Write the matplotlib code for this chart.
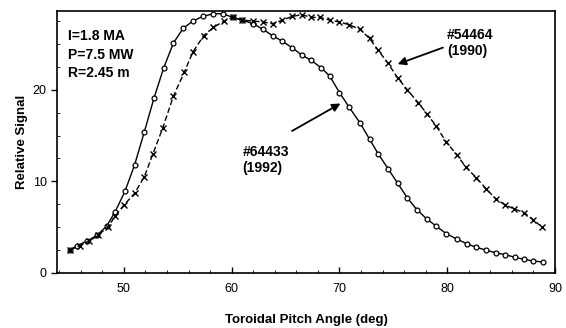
import numpy as np
import matplotlib.pyplot as plt
from matplotlib.ticker import MultipleLocator

plt.rcParams["font.family"] = ["Liberation Sans", "DejaVu Sans"]

# shot #64433 (1992), open circles
angle_64433 = [45.0, 45.7, 46.6, 47.5, 48.4, 49.2, 50.1, 51.0, 51.9, 52.8,
               53.7, 54.6, 55.5, 56.4, 57.3, 58.3, 59.2, 60.1, 61.0, 62.0,
               62.9, 63.8, 64.7, 65.6, 66.5, 67.4, 68.3, 69.1, 70.0, 70.9,
               71.9, 72.8, 73.6, 74.5, 75.4, 76.3, 77.2, 78.1, 79.0, 79.9,
               80.9, 81.8, 82.7, 83.6, 84.5, 85.4, 86.3, 87.1, 88.0, 88.9]
signal_64433 = [2.5, 3.0, 3.5, 4.1, 5.1, 6.7, 8.9, 11.8, 15.4, 19.1,
                22.4, 25.1, 26.7, 27.5, 28.0, 28.3, 28.3, 27.9, 27.6, 27.2,
                26.6, 25.9, 25.3, 24.6, 23.8, 23.2, 22.4, 21.5, 19.7, 18.1,
                16.4, 14.6, 13.0, 11.4, 9.8, 8.2, 6.9, 5.9, 5.1, 4.3,
                3.7, 3.2, 2.8, 2.5, 2.2, 2.0, 1.7, 1.5, 1.3, 1.2]

# shot #54464 (1990), crosses
angle_54464 = [45.0, 45.9, 46.8, 47.6, 48.5, 49.2, 50.0, 51.0, 51.9, 52.7,
               53.6, 54.6, 55.6, 56.4, 57.4, 58.3, 59.3, 60.1, 61.0, 62.0,
               62.9, 63.8, 64.7, 65.6, 66.5, 67.4, 68.2, 69.1, 70.0, 70.9,
               71.9, 72.8, 73.6, 74.5, 75.4, 76.3, 77.3, 78.1, 79.0, 79.9,
               80.9, 81.7, 82.7, 83.6, 84.5, 85.4, 86.2, 87.1, 88.0, 88.8]
signal_54464 = [2.5, 3.0, 3.5, 4.1, 5.0, 6.2, 7.4, 8.7, 10.5, 13.0,
                15.8, 19.3, 21.9, 24.1, 25.9, 26.8, 27.5, 27.9, 27.6, 27.5,
                27.4, 27.2, 27.6, 28.0, 28.2, 27.9, 27.9, 27.6, 27.4, 27.1,
                26.6, 25.6, 24.3, 22.9, 21.3, 20.0, 18.6, 17.4, 16.0, 14.3,
                12.9, 11.6, 10.4, 9.2, 8.1, 7.4, 7.0, 6.6, 5.8, 5.0]

fig = plt.figure(figsize=(5.66, 3.28), dpi=100)
ax = fig.add_axes([0.1007, 0.1677, 0.8799, 0.7988])

ax.plot(angle_64433, signal_64433, color="black", linewidth=1.0,
        marker="o", markersize=3.5, markerfacecolor="white",
        markeredgewidth=0.9)
ax.plot(angle_54464, signal_54464, color="black", linewidth=1.0,
        linestyle=(0, (4, 2)), marker="x", markersize=4.5,
        markeredgewidth=1.0)

ax.set_xlim(43.8, 90)
ax.set_ylim(0, 28.6)
ax.set_xticks([50, 60, 70, 80, 90])
ax.set_yticks([0, 10, 20])
ax.xaxis.set_minor_locator(MultipleLocator(2))
ax.yaxis.set_minor_locator(MultipleLocator(2.5))
ax.tick_params(axis="both", which="major", labelsize=9, length=4, width=1)
ax.tick_params(axis="x", which="both", direction="in")
ax.tick_params(axis="x", which="major", pad=7)
ax.tick_params(axis="y", which="minor", direction="in", length=2)
ax.tick_params(axis="x", which="minor", length=2)
for sp in ax.spines.values():
    sp.set_linewidth(1.2)

ax.set_xlabel("Toroidal Pitch Angle (deg)", fontweight="bold", fontsize=9.5,
              labelpad=14)
ax.set_ylabel("Relative Signal", fontweight="bold", fontsize=9.5, labelpad=3)

ax.text(0.022, 0.93, "I=1.8 MA\nP=7.5 MW\nR=2.45 m", transform=ax.transAxes,
        ha="left", va="top", fontweight="bold", fontsize=10, linespacing=1.4)

# shot labels with arrows
arrow = dict(arrowstyle="-|>", color="black", lw=1.3, mutation_scale=12,
             shrinkA=0, shrinkB=0)
ax.text(80.0, 25.1, "#54464\n(1990)", ha="left", va="center",
        fontweight="bold", fontsize=10)
ax.annotate("", xy=(75.4, 22.8), xytext=(79.6, 24.6), arrowprops=arrow)
ax.text(61.0, 12.3, "#64433\n(1992)", ha="left", va="center",
        fontweight="bold", fontsize=10)
ax.annotate("", xy=(70.1, 18.5), xytext=(65.6, 15.5), arrowprops=arrow)

fig.savefig("out.png", dpi=100)
